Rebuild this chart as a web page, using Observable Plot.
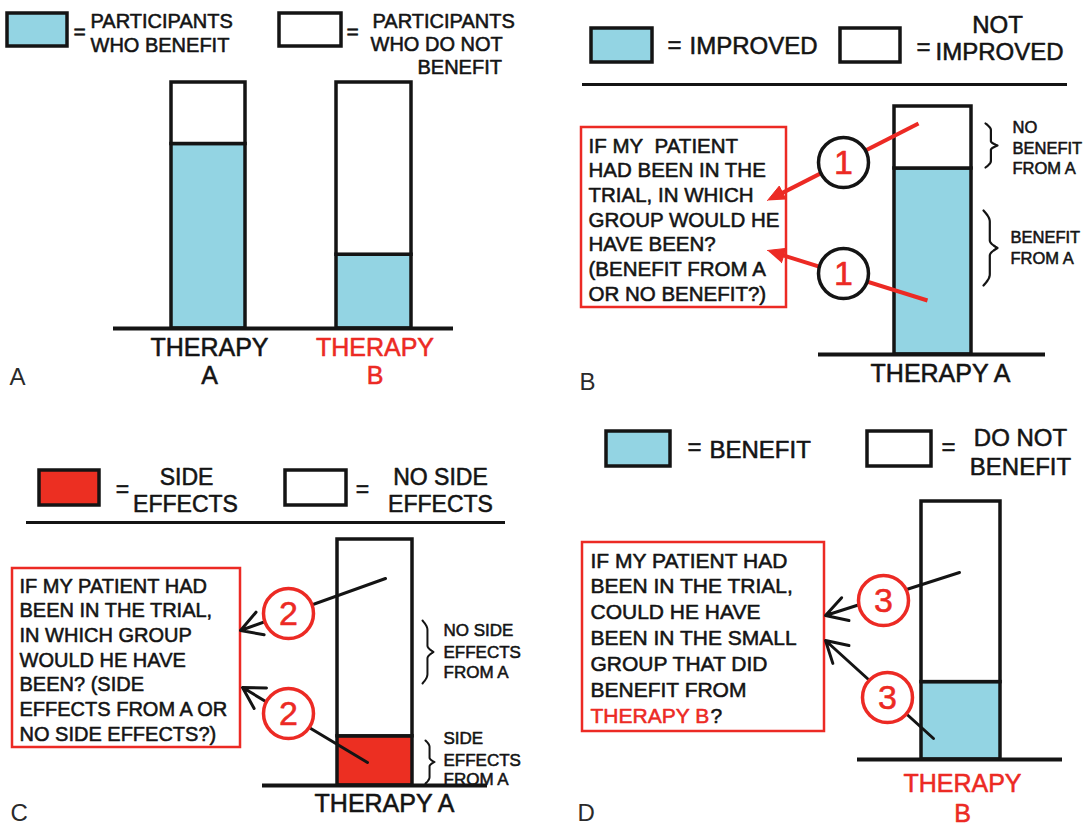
<!DOCTYPE html>
<html><head><meta charset="utf-8">
<script src="https://cdn.jsdelivr.net/npm/d3@7"></script>
<script src="https://cdn.jsdelivr.net/npm/@observablehq/plot@0.6"></script>
<style>
body{margin:0;background:#fff;}
#fig{position:relative;width:1092px;height:828px;background:#fff;overflow:hidden;}
#fig svg{position:absolute;}
</style></head><body><div id="fig"></div>
<script>
// ---------------- data ----------------
const panelACategories = ["THERAPY A", "THERAPY B"];
const panelABenefitPct = [75, 30];
const panelBCategories = ["THERAPY A"];
const panelBImprovedPct = [75];
const panelCCategories = ["THERAPY A"];
const panelCSideEffectsPct = [20];
const panelDCategories = ["THERAPY B"];
const panelDBenefitPct = [30];

const legendA = [["PARTICIPANTS", "WHO BENEFIT"], ["PARTICIPANTS", "WHO DO NOT", "BENEFIT"]];
const legendB = [["IMPROVED"], ["NOT", "IMPROVED"]];
const legendC = [["SIDE", "EFFECTS"], ["NO SIDE", "EFFECTS"]];
const legendD = [["BENEFIT"], ["DO NOT", "BENEFIT"]];

const questionB = ["IF MY\u00a0 PATIENT", "HAD BEEN IN THE", "TRIAL, IN WHICH", "GROUP WOULD HE", "HAVE BEEN?", "(BENEFIT FROM A", "OR NO BENEFIT?)"];
const questionC = ["IF MY PATIENT HAD", "BEEN IN THE TRIAL,", "IN WHICH GROUP", "WOULD HE HAVE", "BEEN? (SIDE", "EFFECTS FROM A OR", "NO SIDE EFFECTS?)"];
const questionD = ["IF MY PATIENT HAD", "BEEN IN THE TRIAL,", "COULD HE HAVE", "BEEN IN THE SMALL", "GROUP THAT DID", "BENEFIT FROM"];
const questionDLast = ["THERAPY B", "?"];

const bracesB = [["NO", "BENEFIT", "FROM A"], ["BENEFIT", "FROM A"]];
const bracesC = [["NO SIDE", "EFFECTS", "FROM A"], ["SIDE", "EFFECTS", "FROM A"]];

// ---------------- styles ----------------
const BLUE = "#93d4e3", RED = "#ec2a24", INK = "#141414", SIDE = "#ec2f22";
const FONT = "'Liberation Sans', Arial, Helvetica, sans-serif";
const fig = document.getElementById("fig");

function segments(cats, vals, xs, lowFill, highFill) {
  const out = [];
  cats.forEach((c, i) => {
    out.push({cat: c, x1: xs[c][0], x2: xs[c][1], y1: 0, y2: vals[i], fill: lowFill});
    out.push({cat: c, x1: xs[c][0], x2: xs[c][1], y1: vals[i], y2: 100, fill: highFill});
  });
  return out;
}

function bracePts(id, x0, w, t, b) {
  const pts = [], n = 60;
  for (let i = 0; i <= n; i++) {
    const s = i / n, u = s <= 0.5 ? s / 0.5 : (1 - s) / 0.5;
    let f;
    if (u < 0.3) f = 0.45 * Math.sin(Math.PI / 2 * u / 0.3);
    else if (u < 0.8) f = 0.45;
    else f = 0.45 + 0.55 * (1 - Math.cos(Math.PI / 2 * (u - 0.8) / 0.2));
    pts.push({id, x: x0 + w * f, py: t + s * (b - t)});
  }
  return pts;
}

function panel(left, top, base, barTop, build) {
  const Y = px => (base - px) / (base - barTop) * 100;
  const T = (rows, o) => Plot.text(rows, {
    x: "x", y: d => Y(d.y), text: "t", lineAnchor: "bottom", fontFamily: FONT,
    stroke: o.light ? undefined : o.fill, strokeWidth: o.light ? undefined : 0.55, paintOrder: "normal", ...o
  });
  const Box = (rows, o) => Plot.rect(rows, {x1: "x1", x2: "x2", y1: d => Y(d.b), y2: d => Y(d.t), ...o});
  const marks = build(Y, T, Box);
  const svg = Plot.plot({
    width: 546, height: 414, margin: 0,
    x: {domain: [0, 546], range: [0, 546], axis: null},
    y: {domain: [0, 100], range: [base, barTop], axis: null},
    color: {type: "identity"},
    style: {fontFamily: FONT, background: "transparent", overflow: "visible"},
    marks
  });
  svg.style.left = left + "px";
  svg.style.top = top + "px";
  fig.appendChild(svg);
}

// ---------------- Panel A ----------------
panel(0, 0, 328, 82, (Y, T, Box) => {
  const xs = {"THERAPY A": [171, 245], "THERAPY B": [336, 411]};
  const labelColor = {"THERAPY A": INK, "THERAPY B": RED};
  const segs = segments(panelACategories, panelABenefitPct, xs, BLUE, "white");
  const tick = panelACategories.flatMap(c => {
    const [w1, w2] = c.split(" ");
    const cx = (xs[c][0] + xs[c][1]) / 2 + 1;
    return [{x: cx, y: 355, t: w1, c: labelColor[c]}, {x: cx, y: 383, t: w2, c: labelColor[c]}];
  });
  return [
    Plot.rect(segs, {x1: "x1", x2: "x2", y1: "y1", y2: "y2", fill: "fill", stroke: INK, strokeWidth: 3.5}),
    Plot.ruleY([0], {x1: 113, x2: 453, stroke: INK, strokeWidth: 4}),
    Box([{x1: 7, x2: 67, t: 13, b: 46}], {fill: BLUE, stroke: INK, strokeWidth: 3.5}),
    Box([{x1: 279, x2: 341, t: 13, b: 46}], {fill: "white", stroke: INK, strokeWidth: 3.5}),
    T([{x: 79, y: 32, t: "="}, {x: 352, y: 32, t: "="}], {fontSize: 21, textAnchor: "middle", lineAnchor: "middle", fill: INK}),
    T([{x: 90, y: 27, t: legendA[0][0]}, {x: 90, y: 51, t: legendA[0][1]},
       {x: 372, y: 27, t: legendA[1][0]}, {x: 370, y: 50, t: legendA[1][1]}, {x: 417, y: 73, t: legendA[1][2]}],
      {fontSize: 20, textAnchor: "start", fill: INK}),
    T(tick.filter(d => d.c === INK), {fontSize: 25, textAnchor: "middle", fill: INK}),
    T(tick.filter(d => d.c === RED), {fontSize: 25, textAnchor: "middle", fill: RED}),
    T([{x: 9, y: 384, t: "A"}], {fontSize: 24, textAnchor: "start", fill: "#2a2a2a", light: true})
  ];
});

// ---------------- Panel B ----------------
panel(546, 0, 354, 106, (Y, T, Box) => {
  const xs = {"THERAPY A": [348, 425]};
  const segs = segments(panelBCategories, panelBImprovedPct, xs, BLUE, "white");
  const arrows = [[372, 123, 221, 200], [381, 300, 221, 250]];
  const shafts = [], heads = [];
  arrows.forEach(([x1, y1, x2, y2], i) => {
    const L = Math.hypot(x2 - x1, y2 - y1), ux = (x2 - x1) / L, uy = (y2 - y1) / L;
    const bx = x2 - ux * 17, by = y2 - uy * 17, h = 7.5;
    shafts.push({x1, y1, x2: bx + ux * 3, y2: by + uy * 3});
    heads.push({id: i, x: x2, py: y2}, {id: i, x: bx - uy * h, py: by + ux * h}, {id: i, x: bx + uy * h, py: by - ux * h});
  });
  const braces = [...bracePts(0, 439, 12, 123, 167), ...bracePts(1, 437, 14, 210, 285)];
  return [
    Plot.rect(segs, {x1: "x1", x2: "x2", y1: "y1", y2: "y2", fill: "fill", stroke: INK, strokeWidth: 3.5}),
    Plot.ruleY([0], {x1: 272, x2: 499, stroke: INK, strokeWidth: 4}),
    Plot.ruleY([Y(84)], {x1: 36, x2: 521, stroke: INK, strokeWidth: 3}),
    Box([{x1: 45, x2: 106, t: 28, b: 62}], {fill: BLUE, stroke: INK, strokeWidth: 3.5}),
    Box([{x1: 294, x2: 354, t: 28, b: 62}], {fill: "white", stroke: INK, strokeWidth: 3.5}),
    T([{x: 128, y: 45, t: "="}, {x: 377, y: 47, t: "="}], {fontSize: 24, textAnchor: "middle", lineAnchor: "middle", fill: INK}),
    T([{x: 143, y: 53, t: legendB[0][0]}, {x: 389, y: 59, t: legendB[1][1]}], {fontSize: 24, textAnchor: "start", fill: INK}),
    T([{x: 451, y: 32, t: legendB[1][0]}], {fontSize: 24, textAnchor: "middle", fill: INK}),
    Box([{x1: 35, x2: 240, t: 127, b: 307}], {fill: "white", stroke: RED, strokeWidth: 2.5}),
    T(questionB.map((t, i) => ({x: 42, y: 152 + i * 24.7, t})), {fontSize: 20.5, textAnchor: "start", fill: INK}),
    Plot.link(shafts, {x1: "x1", x2: "x2", y1: d => Y(d.y1), y2: d => Y(d.y2), stroke: RED, strokeWidth: 4}),
    Plot.line(heads, {x: "x", y: d => Y(d.py), z: "id", fill: RED, stroke: RED, strokeWidth: 1}),
    Plot.dot([{x: 297, y: 162}, {x: 297, y: 273}], {x: "x", y: d => Y(d.y), r: 25, fill: "white", stroke: INK, strokeWidth: 3.5}),
    T([{x: 297, y: 163, t: "1"}, {x: 297, y: 274, t: "1"}], {fontSize: 34, textAnchor: "middle", lineAnchor: "middle", fill: RED}),
    Plot.line(braces, {x: "x", y: d => Y(d.py), z: "id", stroke: INK, strokeWidth: 2.2}),
    T([{x: 466, y: 132, t: bracesB[0][0]}, {x: 466, y: 153, t: bracesB[0][1]}, {x: 466, y: 173, t: bracesB[0][2]},
       {x: 464, y: 242, t: bracesB[1][0]}, {x: 464, y: 263, t: bracesB[1][1]}], {fontSize: 16.5, textAnchor: "start", fill: INK}),
    T([{x: 394, y: 381, t: panelBCategories[0]}], {fontSize: 25, textAnchor: "middle", fill: INK}),
    T([{x: 33, y: 389, t: "B"}], {fontSize: 24, textAnchor: "start", fill: "#2a2a2a", light: true})
  ];
});

// ---------------- Panel C ----------------
panel(0, 414, 371, 125, (Y, T, Box) => {
  const xs = {"THERAPY A": [337, 412]};
  const segs = segments(panelCCategories, panelCSideEffectsPct, xs, SIDE, "white");
  const arrows = [{x1: 385, y1: 164, x2: 240, y2: 216}, {x1: 367, y1: 348, x2: 242, y2: 273}];
  const braces = [...bracePts(0, 422, 11, 206, 269), ...bracePts(1, 425, 9, 326, 369)];
  return [
    Plot.rect(segs, {x1: "x1", x2: "x2", y1: "y1", y2: "y2", fill: "fill", stroke: INK, strokeWidth: 3.5}),
    Plot.ruleY([0], {x1: 262, x2: 487, stroke: INK, strokeWidth: 4}),
    Plot.ruleY([Y(108)], {x1: 26, x2: 505, stroke: INK, strokeWidth: 3}),
    Box([{x1: 39, x2: 99, t: 56, b: 91}], {fill: SIDE, stroke: INK, strokeWidth: 3.5}),
    Box([{x1: 285, x2: 346, t: 56, b: 91}], {fill: "white", stroke: INK, strokeWidth: 3.5}),
    T([{x: 122, y: 75, t: "="}, {x: 362, y: 75, t: "="}], {fontSize: 23, textAnchor: "middle", lineAnchor: "middle", fill: INK}),
    T([{x: 186, y: 70, t: legendC[0][0]}, {x: 185, y: 97, t: legendC[0][1]},
       {x: 440, y: 70, t: legendC[1][0]}, {x: 440, y: 97, t: legendC[1][1]}], {fontSize: 23, textAnchor: "middle", fill: INK}),
    Box([{x1: 12, x2: 240, t: 154, b: 333}], {fill: "white", stroke: RED, strokeWidth: 2.5}),
    T(questionC.map((t, i) => ({x: 19, y: 178 + i * 24.7, t})), {fontSize: 20, textAnchor: "start", fill: INK}),
    Plot.arrow(arrows, {x1: "x1", x2: "x2", y1: d => Y(d.y1), y2: d => Y(d.y2), stroke: INK, strokeWidth: 3, headLength: 12}),
    Plot.dot([{x: 288, y: 199}, {x: 288, y: 299}], {x: "x", y: d => Y(d.y), r: 25, fill: "white", stroke: RED, strokeWidth: 3.5}),
    T([{x: 288, y: 200, t: "2"}, {x: 288, y: 300, t: "2"}], {fontSize: 34, textAnchor: "middle", lineAnchor: "middle", fill: RED}),
    Plot.line(braces, {x: "x", y: d => Y(d.py), z: "id", stroke: INK, strokeWidth: 2}),
    T([{x: 443, y: 221, t: bracesC[0][0]}, {x: 443, y: 243, t: bracesC[0][1]}, {x: 443, y: 263, t: bracesC[0][2]},
       {x: 443, y: 329, t: bracesC[1][0]}, {x: 443, y: 351, t: bracesC[1][1]}, {x: 443, y: 370, t: bracesC[1][2]}],
      {fontSize: 17, textAnchor: "start", fill: INK}),
    T([{x: 384, y: 397, t: panelCCategories[0]}], {fontSize: 25, textAnchor: "middle", fill: INK}),
    T([{x: 10, y: 406, t: "C"}], {fontSize: 24, textAnchor: "start", fill: "#2a2a2a", light: true})
  ];
});

// ---------------- Panel D ----------------
panel(546, 414, 345, 87, (Y, T, Box) => {
  const xs = {"THERAPY B": [375, 454]};
  const segs = segments(panelDCategories, panelDBenefitPct, xs, BLUE, "white");
  const arrows = [{x1: 413, y1: 158, x2: 279, y2: 201}, {x1: 387, y1: 324, x2: 279, y2: 226}];
  const [w1, w2] = panelDCategories[0].split(" ");
  return [
    Plot.rect(segs, {x1: "x1", x2: "x2", y1: "y1", y2: "y2", fill: "fill", stroke: INK, strokeWidth: 3.5}),
    Plot.ruleY([0], {x1: 311, x2: 516, stroke: INK, strokeWidth: 4}),
    Box([{x1: 60, x2: 124, t: 17, b: 52}], {fill: BLUE, stroke: INK, strokeWidth: 3.5}),
    Box([{x1: 321, x2: 385, t: 17, b: 52}], {fill: "white", stroke: INK, strokeWidth: 3.5}),
    T([{x: 148, y: 33, t: "="}, {x: 402, y: 33, t: "="}], {fontSize: 24, textAnchor: "middle", lineAnchor: "middle", fill: INK}),
    T([{x: 163, y: 43, t: legendD[0][0]}], {fontSize: 24, textAnchor: "start", fill: INK}),
    T([{x: 474, y: 31, t: legendD[1][0]}, {x: 474, y: 60, t: legendD[1][1]}], {fontSize: 24, textAnchor: "middle", fill: INK}),
    Box([{x1: 36, x2: 278, t: 128, b: 317}], {fill: "white", stroke: RED, strokeWidth: 2.5}),
    T(questionD.map((t, i) => ({x: 44, y: 153 + i * 25.8, t})), {fontSize: 21, textAnchor: "start", fill: INK}),
    T([{x: 44, y: 308, t: questionDLast[0]}], {fontSize: 21, textAnchor: "start", fill: RED}),
    T([{x: 164, y: 308, t: questionDLast[1]}], {fontSize: 21, textAnchor: "start", fill: INK}),
    Plot.arrow(arrows, {x1: "x1", x2: "x2", y1: d => Y(d.y1), y2: d => Y(d.y2), stroke: INK, strokeWidth: 3, headLength: 12}),
    Plot.dot([{x: 337, y: 186}, {x: 341, y: 283}], {x: "x", y: d => Y(d.y), r: 25, fill: "white", stroke: RED, strokeWidth: 3.5}),
    T([{x: 337, y: 187, t: "3"}, {x: 341, y: 284, t: "3"}], {fontSize: 34, textAnchor: "middle", lineAnchor: "middle", fill: RED}),
    T([{x: 416, y: 377, t: w1}, {x: 416, y: 407, t: w2}], {fontSize: 25, textAnchor: "middle", fill: RED}),
    T([{x: 31, y: 406, t: "D"}], {fontSize: 24, textAnchor: "start", fill: "#2a2a2a", light: true})
  ];
});
</script></body></html>
